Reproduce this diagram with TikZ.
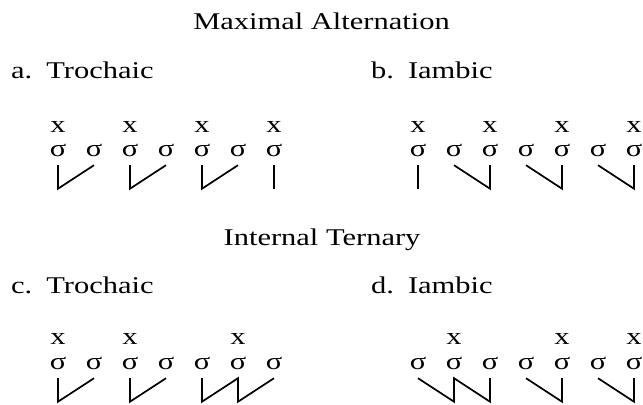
\documentclass[tikz,border=0pt]{standalone}
\usepackage{fontspec}
\setmainfont[FakeStretch=1.27]{Liberation Serif}
\usepackage{tikz}

\begin{document}
\begin{tikzpicture}[x=1bp,y=-1bp,font=\fontsize{24bp}{28bp}\selectfont,
	syl/.style={inner sep=0pt,minimum height=30bp},
	beat/.style={inner sep=0pt},
	foot/.style={line width=1.7bp}]
	\useasboundingbox (0,0) rectangle (643,404);
	% headings
	\node [anchor=base] (maxalt) at (321.5,29) {Maximal Alternation};
	\node [anchor=base west,inner sep=0pt] (lbla) at (11,78) {a.\hspace{14bp}Trochaic};
	\node [anchor=base west,inner sep=0pt] (lblb) at (371,78) {b.\hspace{14bp}Iambic};
	\node [anchor=base] (intern) at (322,245) {Internal Ternary};
	\node [anchor=base west,inner sep=0pt] (lblc) at (11,293) {c.\hspace{14bp}Trochaic};
	\node [anchor=base west,inner sep=0pt] (lbld) at (371,293) {d.\hspace{14bp}Iambic};
	% a. trochaic
	\node [syl] (a1) at (58,150) {σ};
	\node [syl] (a2) at (94,150) {σ};
	\node [syl] (a3) at (130,150) {σ};
	\node [syl] (a4) at (166,150) {σ};
	\node [syl] (a5) at (202,150) {σ};
	\node [syl] (a6) at (238,150) {σ};
	\node [syl] (a7) at (274,150) {σ};
	\node [beat] (xa1) at (58,127) {x};
	\node [beat] (xa3) at (130,127) {x};
	\node [beat] (xa5) at (202,127) {x};
	\node [beat] (xa7) at (274,127) {x};
	\draw [foot] (a1.south) -- ++(0,23.5) -- (a2.south);
	\draw [foot] (a3.south) -- ++(0,23.5) -- (a4.south);
	\draw [foot] (a5.south) -- ++(0,23.5) -- (a6.south);
	\draw [foot] (a7.south) -- ++(0,23.5);
	% b. iambic
	\node [syl] (b1) at (418,150) {σ};
	\node [syl] (b2) at (454,150) {σ};
	\node [syl] (b3) at (490,150) {σ};
	\node [syl] (b4) at (526,150) {σ};
	\node [syl] (b5) at (562,150) {σ};
	\node [syl] (b6) at (598,150) {σ};
	\node [syl] (b7) at (634,150) {σ};
	\node [beat] (xb1) at (418,127) {x};
	\node [beat] (xb3) at (490,127) {x};
	\node [beat] (xb5) at (562,127) {x};
	\node [beat] (xb7) at (634,127) {x};
	\draw [foot] (b1.south) -- ++(0,23.5);
	\draw [foot] (b3.south) -- ++(0,23.5) -- (b2.south);
	\draw [foot] (b5.south) -- ++(0,23.5) -- (b4.south);
	\draw [foot] (b7.south) -- ++(0,23.5) -- (b6.south);
	% c. trochaic
	\node [syl] (c1) at (58,363) {σ};
	\node [syl] (c2) at (94,363) {σ};
	\node [syl] (c3) at (130,363) {σ};
	\node [syl] (c4) at (166,363) {σ};
	\node [syl] (c5) at (202,363) {σ};
	\node [syl] (c6) at (238,363) {σ};
	\node [syl] (c7) at (274,363) {σ};
	\node [beat] (xc1) at (58,339) {x};
	\node [beat] (xc3) at (130,339) {x};
	\node [beat] (xc6) at (238,339) {x};
	\draw [foot] (c1.south) -- ++(0,23.5) -- (c2.south);
	\draw [foot] (c3.south) -- ++(0,23.5) -- (c4.south);
	\draw [foot] (c5.south) -- ++(0,23.5) -- (c6.south) -- ++(0,23.5) -- (c7.south);
	% d. iambic
	\node [syl] (d1) at (418,363) {σ};
	\node [syl] (d2) at (454,363) {σ};
	\node [syl] (d3) at (490,363) {σ};
	\node [syl] (d4) at (526,363) {σ};
	\node [syl] (d5) at (562,363) {σ};
	\node [syl] (d6) at (598,363) {σ};
	\node [syl] (d7) at (634,363) {σ};
	\node [beat] (xd2) at (454,339) {x};
	\node [beat] (xd5) at (562,339) {x};
	\node [beat] (xd7) at (634,339) {x};
	\draw [foot] (d3.south) -- ++(0,23.5) -- (d2.south) -- ++(0,23.5) -- (d1.south);
	\draw [foot] (d5.south) -- ++(0,23.5) -- (d4.south);
	\draw [foot] (d7.south) -- ++(0,23.5) -- (d6.south);
\end{tikzpicture}
\end{document}
